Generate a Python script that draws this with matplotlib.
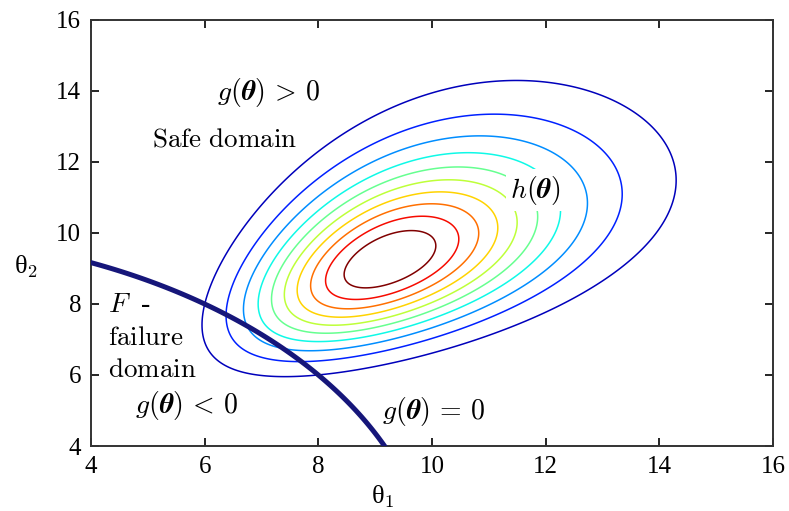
import numpy as np
import matplotlib
matplotlib.use("Agg")
import matplotlib.pyplot as plt
from matplotlib.colors import Normalize

# joint density h(theta): lognormal, parameters
log_mean = [2.282, 2.282]
log_std = [0.20, 0.20]
rho = 0.5
n_levels = 10

# limit state g(theta) = R^2 - theta1^2 - theta2^2
radius = 10.0

xlim = (4, 16)
ylim = (4, 16)
ticks = [4, 6, 8, 10, 12, 14, 16]

plt.rcParams["font.family"] = ["Liberation Serif", "DejaVu Serif"]
plt.rcParams["mathtext.fontset"] = "cm"

fig = plt.figure(figsize=(7.89, 5.11), dpi=100)
ax = fig.add_axes([0.1153, 0.1272, 0.8644, 0.8337])

t1 = np.linspace(3.5, 16.5, 700)
t2 = np.linspace(3.5, 16.5, 700)
T1, T2 = np.meshgrid(t1, t2)
z1 = (np.log(T1) - log_mean[0]) / log_std[0]
z2 = (np.log(T2) - log_mean[1]) / log_std[1]
q = (z1**2 - 2 * rho * z1 * z2 + z2**2) / (1 - rho**2)
H = np.exp(-0.5 * q) / (T1 * T2)

hmax = H.max()
levels = hmax * np.arange(1, n_levels + 1) / (n_levels + 1)
step = levels[1] - levels[0]
ax.contour(T1, T2, H, levels=levels, cmap="jet", linewidths=1.1,
           norm=Normalize(levels[0] - 0.5 * step, levels[-1]))

G = radius**2 - T1**2 - T2**2
ax.contour(T1, T2, G, levels=[0], colors="#16167a", linewidths=3.6, zorder=4)

ax.set_xlim(*xlim)
ax.set_ylim(*ylim)
ax.set_xticks(ticks)
ax.set_yticks(ticks)
ax.tick_params(direction="in", length=6, width=1.2, top=True, right=True,
               labelsize=18, pad=7)
for s in ax.spines.values():
    s.set_linewidth(1.4)
    s.set_color("#333333")

ax.set_xlabel("θ$_1$", fontsize=19, va="center")
ax.xaxis.set_label_coords(0.428, -0.12)
ax.set_ylabel("θ$_2$", fontsize=19, rotation=0, va="center")
ax.yaxis.set_label_coords(-0.095, 0.42)

fs = 20
th = r"\boldsymbol{\theta}"
ax.text(6.22, 13.97, r"$g(%s)\,>\,0$" % th, fontsize=fs, va="center")
ax.text(5.07, 12.62, r"$\mathrm{Safe\ domain}$", fontsize=19.5, va="center")
ax.text(11.37, 11.21, r"$h(%s)$" % th, fontsize=fs, va="center", zorder=3,
        bbox=dict(facecolor="white", edgecolor="none", pad=3))
ax.text(4.30, 7.97, r"$F\ $ -", fontsize=fs, va="center")
ax.text(4.30, 7.04, r"$\mathrm{failure}$", fontsize=19.5, va="center")
ax.text(4.30, 6.14, r"$\mathrm{domain}$", fontsize=19.5, va="center")
ax.text(4.77, 5.13, r"$g(%s)\,<\,0$" % th, fontsize=fs, va="center")
ax.text(9.12, 4.96, r"$g(%s)\,=\,0$" % th, fontsize=fs, va="center")

fig.savefig("out.png", dpi=100)
